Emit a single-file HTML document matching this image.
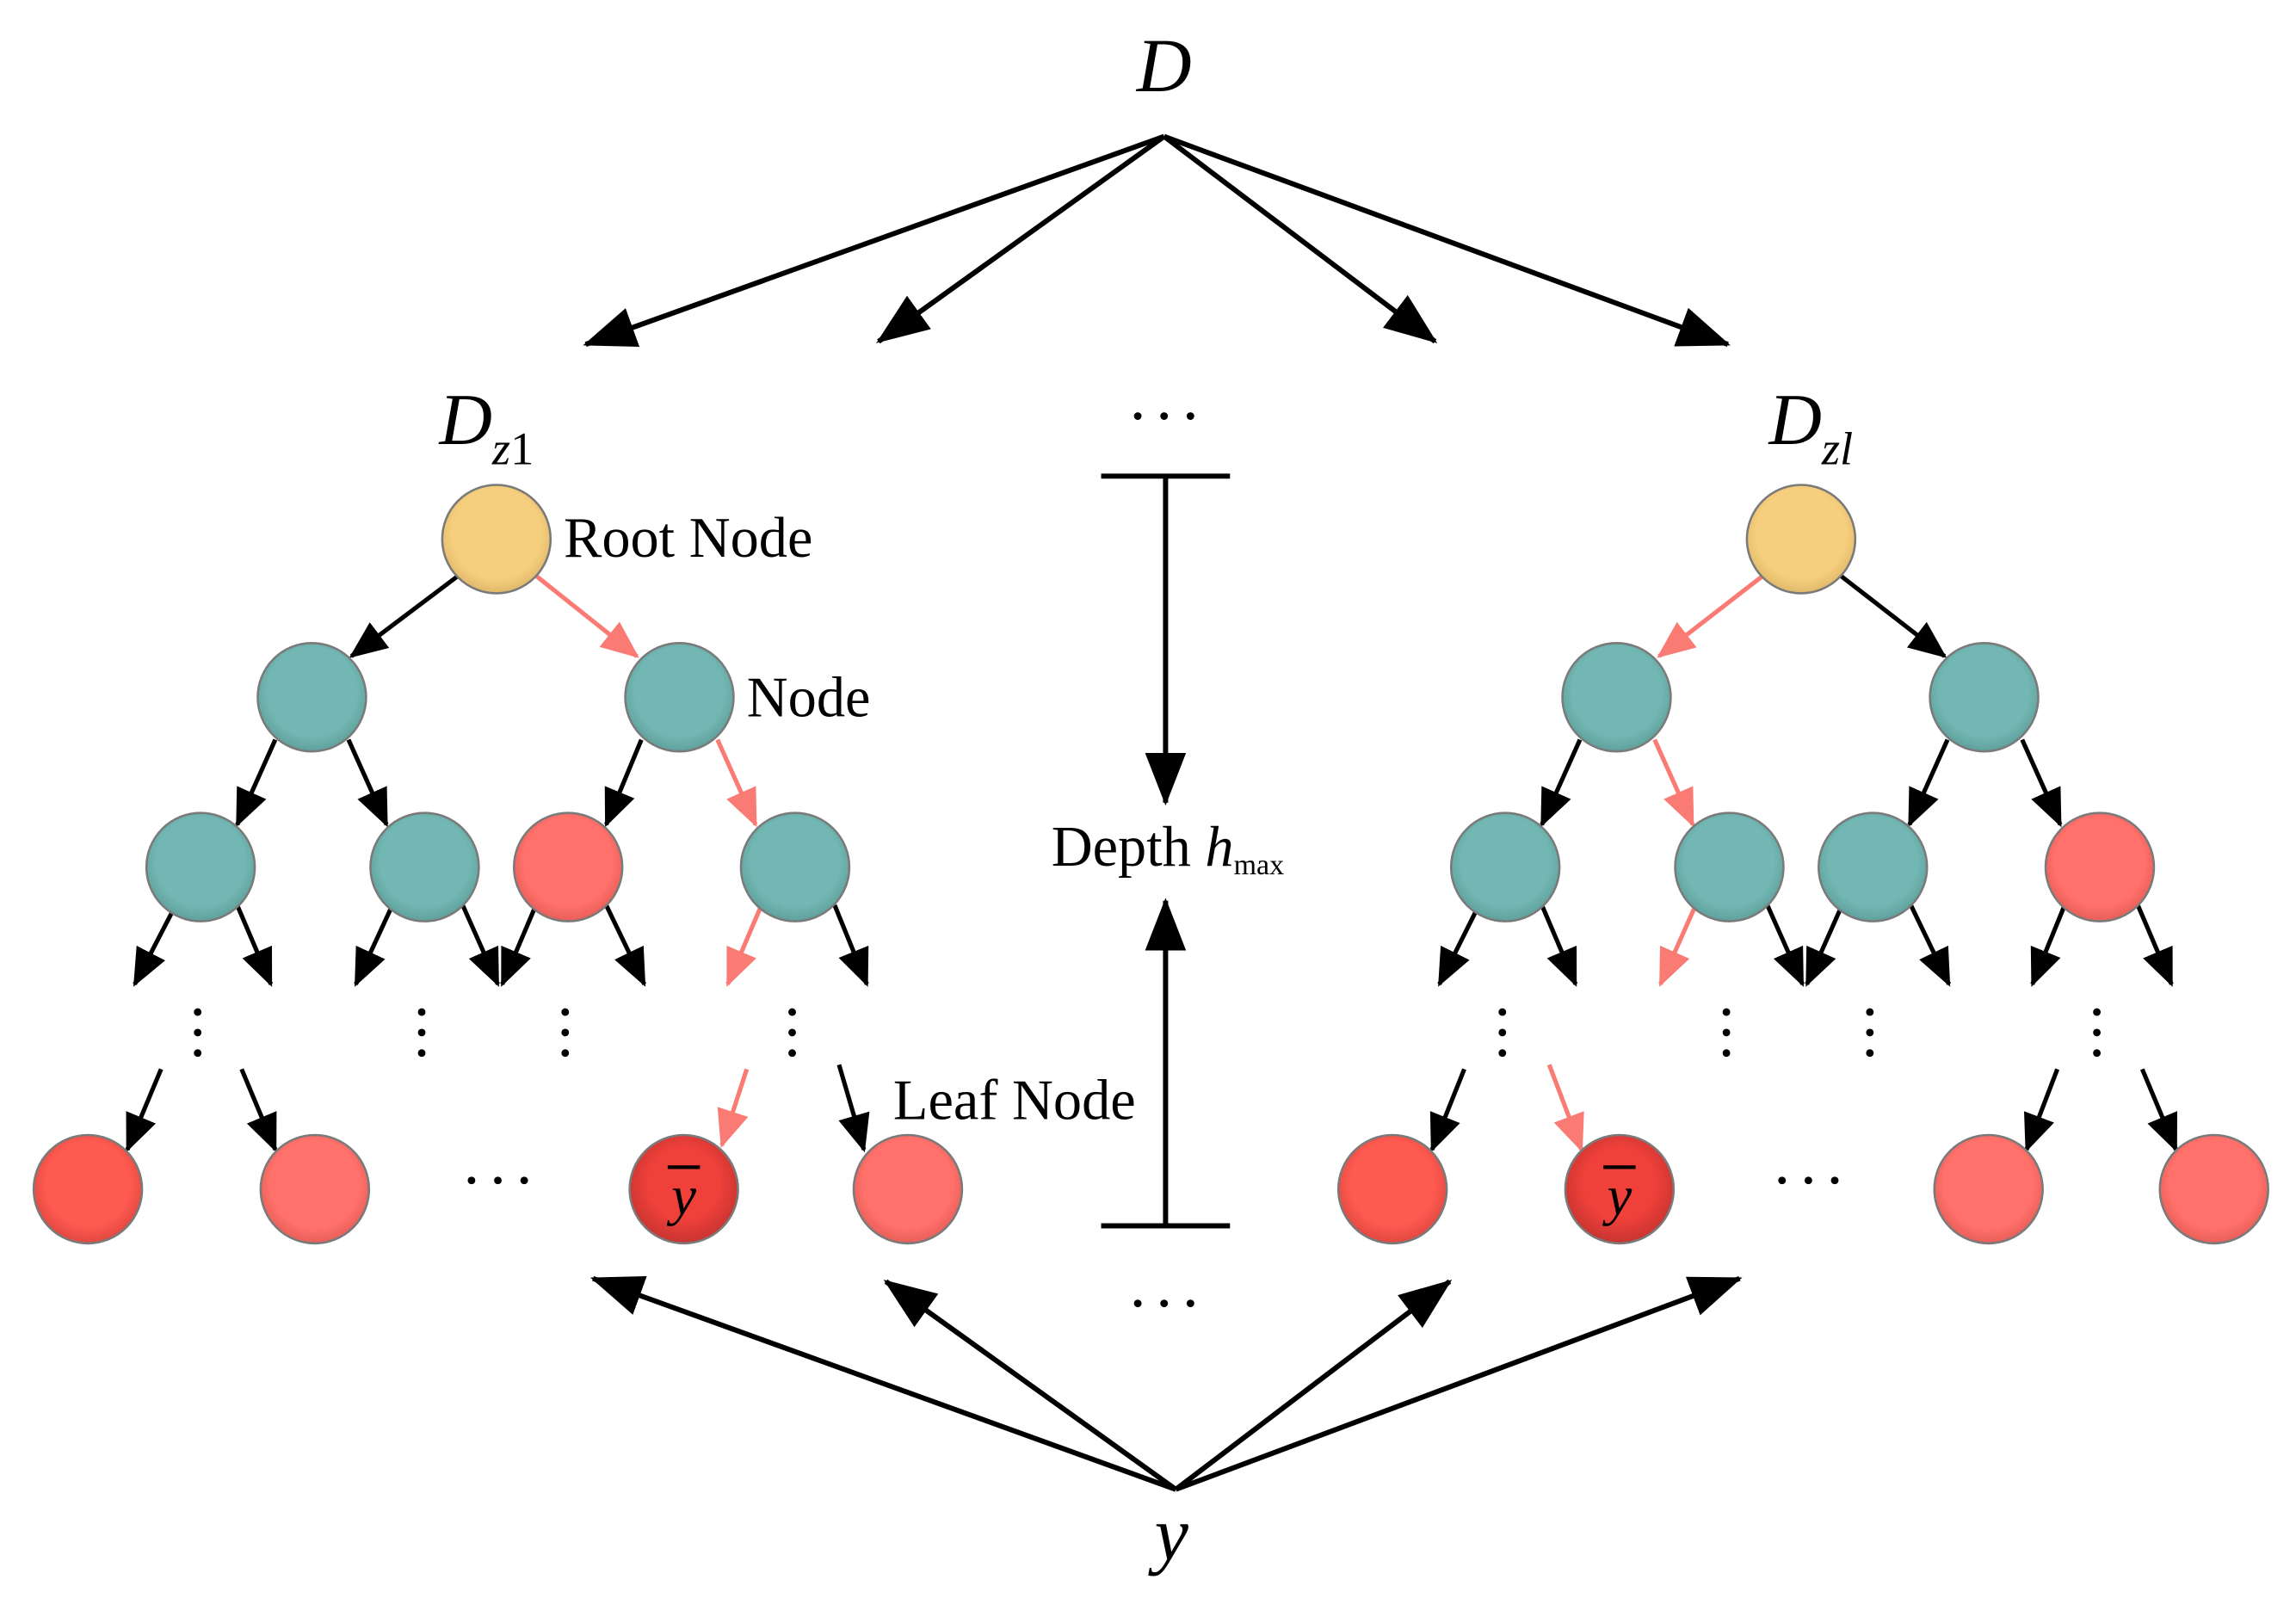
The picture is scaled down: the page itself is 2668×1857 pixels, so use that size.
<!DOCTYPE html>
<html><head><meta charset="utf-8"><style>html,body{margin:0;padding:0;background:#fff}svg{display:block}</style></head><body>
<svg width="2668" height="1857" viewBox="0 0 1568 1091" xmlns="http://www.w3.org/2000/svg" font-family="Liberation Serif, serif">
<defs>
<marker id="big" markerUnits="userSpaceOnUse" markerWidth="40" markerHeight="30" refX="34" refY="14" orient="auto"><path d="M0,0 L36,14 L0,28 Z" fill="#000"/></marker>
<marker id="ab" markerUnits="userSpaceOnUse" markerWidth="30" markerHeight="24" refX="24" refY="11" orient="auto"><path d="M0,0 L26,11 L0,22 Z" fill="#000"/></marker>
<marker id="ap" markerUnits="userSpaceOnUse" markerWidth="30" markerHeight="24" refX="24" refY="11" orient="auto"><path d="M0,0 L26,11 L0,22 Z" fill="#FA7A74"/></marker>
<radialGradient id="gt" cx="50%" cy="45%" r="55%"><stop offset="0.75" stop-color="#72B7B3"/><stop offset="1" stop-color="#5FA09C"/></radialGradient>
<radialGradient id="gr" cx="50%" cy="45%" r="55%"><stop offset="0.75" stop-color="#FF716A"/><stop offset="1" stop-color="#E85E58"/></radialGradient>
<radialGradient id="gd" cx="50%" cy="45%" r="55%"><stop offset="0.7" stop-color="#FF5A50"/><stop offset="1" stop-color="#E04840"/></radialGradient>
<radialGradient id="gy" cx="50%" cy="45%" r="55%"><stop offset="0.6" stop-color="#F0403A"/><stop offset="1" stop-color="#C83430"/></radialGradient>
<radialGradient id="go" cx="50%" cy="45%" r="55%"><stop offset="0.75" stop-color="#F6CF7E"/><stop offset="1" stop-color="#E0B86A"/></radialGradient>
<g id="vd"><circle cx="0" cy="0" r="2.6"/><circle cx="0" cy="14" r="2.6"/><circle cx="0" cy="28" r="2.6"/></g>
<g id="hd"><circle cx="-18" cy="0" r="2.6"/><circle cx="0" cy="0" r="2.6"/><circle cx="18" cy="0" r="2.6"/></g>
</defs>
<g stroke="#000" stroke-width="3.5" fill="none" marker-end="url(#big)">
<line x1="795" y1="93" x2="400" y2="235"/><line x1="795" y1="93" x2="600" y2="233"/>
<line x1="795" y1="93" x2="980" y2="233"/><line x1="795" y1="93" x2="1180" y2="235"/>
<line x1="803" y1="1017" x2="405" y2="873"/><line x1="803" y1="1017" x2="605" y2="875"/>
<line x1="803" y1="1017" x2="990" y2="875"/><line x1="803" y1="1017" x2="1188" y2="873"/>
<line x1="796" y1="325" x2="796" y2="548"/><line x1="796" y1="837" x2="796" y2="615"/>
</g>
<g stroke="#000" stroke-width="3.5"><line x1="752" y1="325" x2="840" y2="325"/><line x1="752" y1="837" x2="840" y2="837"/></g>
<g stroke="#000" stroke-width="3" marker-end="url(#ab)">
<line x1="313" y1="393" x2="240" y2="448"/>
<line x1="188" y1="505" x2="162" y2="563"/><line x1="238" y1="505" x2="264" y2="563"/><line x1="438" y1="505" x2="414" y2="563"/>
<line x1="120" y1="618" x2="92" y2="672"/><line x1="162" y1="618" x2="185" y2="672"/>
<line x1="268" y1="618" x2="243" y2="672"/><line x1="316" y1="618" x2="340" y2="672"/>
<line x1="366" y1="618" x2="343" y2="672"/><line x1="414" y1="618" x2="440" y2="672"/>
<line x1="570" y1="618" x2="592" y2="672"/>
<line x1="110" y1="730" x2="87" y2="785"/><line x1="165" y1="730" x2="188" y2="785"/><line x1="573" y1="727" x2="590" y2="785"/>
<line x1="1257" y1="393" x2="1328" y2="448"/>
<line x1="1079" y1="505" x2="1053" y2="563"/><line x1="1330" y1="505" x2="1304" y2="563"/><line x1="1381" y1="505" x2="1407" y2="563"/>
<line x1="1010" y1="618" x2="983" y2="672"/><line x1="1053" y1="618" x2="1076" y2="672"/>
<line x1="1207" y1="618" x2="1231" y2="672"/>
<line x1="1258" y1="618" x2="1234" y2="672"/><line x1="1305" y1="618" x2="1331" y2="672"/>
<line x1="1410" y1="618" x2="1388" y2="672"/><line x1="1460" y1="618" x2="1483" y2="672"/>
<line x1="1000" y1="730" x2="978" y2="785"/><line x1="1405" y1="730" x2="1384" y2="785"/><line x1="1463" y1="730" x2="1486" y2="785"/>
</g>
<g stroke="#FA7A74" stroke-width="3" marker-end="url(#ap)">
<line x1="366" y1="393" x2="435" y2="448"/><line x1="490" y1="505" x2="516" y2="563"/>
<line x1="520" y1="618" x2="497" y2="672"/><line x1="510" y1="730" x2="493" y2="782"/>
<line x1="1204" y1="393" x2="1133" y2="448"/><line x1="1130" y1="505" x2="1156" y2="563"/>
<line x1="1158" y1="618" x2="1134" y2="672"/><line x1="1058" y1="727" x2="1080" y2="785"/>
</g>
<g stroke="#7a7a7a" stroke-width="1.5">
<circle cx="339" cy="368" r="37" fill="url(#go)"/><circle cx="1230" cy="368" r="37" fill="url(#go)"/>
<circle cx="213" cy="476" r="37" fill="url(#gt)"/><circle cx="464" cy="476" r="37" fill="url(#gt)"/>
<circle cx="137" cy="592" r="37" fill="url(#gt)"/><circle cx="290" cy="592" r="37" fill="url(#gt)"/>
<circle cx="388" cy="592" r="37" fill="url(#gr)"/><circle cx="543" cy="592" r="37" fill="url(#gt)"/>
<circle cx="60" cy="812" r="37" fill="url(#gd)"/><circle cx="215" cy="812" r="37" fill="url(#gr)"/>
<circle cx="467" cy="812" r="37" fill="url(#gy)"/><circle cx="620" cy="812" r="37" fill="url(#gr)"/>
<circle cx="1104" cy="476" r="37" fill="url(#gt)"/><circle cx="1355" cy="476" r="37" fill="url(#gt)"/>
<circle cx="1028" cy="592" r="37" fill="url(#gt)"/><circle cx="1181" cy="592" r="37" fill="url(#gt)"/>
<circle cx="1279" cy="592" r="37" fill="url(#gt)"/><circle cx="1434" cy="592" r="37" fill="url(#gr)"/>
<circle cx="951" cy="812" r="37" fill="url(#gd)"/><circle cx="1106" cy="812" r="37" fill="url(#gy)"/>
<circle cx="1358" cy="812" r="37" fill="url(#gr)"/><circle cx="1512" cy="812" r="37" fill="url(#gr)"/>
</g>
<g fill="#000">
<use href="#vd" x="135" y="691"/><use href="#vd" x="288" y="691"/><use href="#vd" x="386" y="691"/><use href="#vd" x="541" y="691"/>
<use href="#vd" x="1026" y="691"/><use href="#vd" x="1179" y="691"/><use href="#vd" x="1277" y="691"/><use href="#vd" x="1432" y="691"/>
<use href="#hd" x="340" y="806"/><use href="#hd" x="1235" y="806"/><use href="#hd" x="795" y="284"/><use href="#hd" x="795" y="890"/>
<text x="795" y="62" font-size="52" font-style="italic" text-anchor="middle">D</text>
<text x="800" y="1065" font-size="52" font-style="italic" text-anchor="middle">y</text>
<text x="300" y="303" font-size="50" font-style="italic">D<tspan font-size="32" dy="14">z</tspan><tspan font-size="32" font-style="normal">1</tspan></text>
<text x="1208" y="303" font-size="50" font-style="italic">D<tspan font-size="32" dy="14">zl</tspan></text>
<g font-size="39"><text x="385" y="380">Root Node</text><text x="510" y="489">Node</text><text x="610" y="764">Leaf Node</text>
<text x="718" y="591">Depth <tspan font-style="italic">h</tspan><tspan font-size="20" dy="6">max</tspan></text></g>
<g font-size="38" font-style="italic" text-anchor="middle"><text x="467" y="829">y</text><text x="1106" y="829">y</text></g>
<g stroke="#000" stroke-width="2.5"><line x1="456" y1="797" x2="478" y2="797"/><line x1="1095" y1="797" x2="1117" y2="797"/></g>
</g>
</svg>
</body></html>
